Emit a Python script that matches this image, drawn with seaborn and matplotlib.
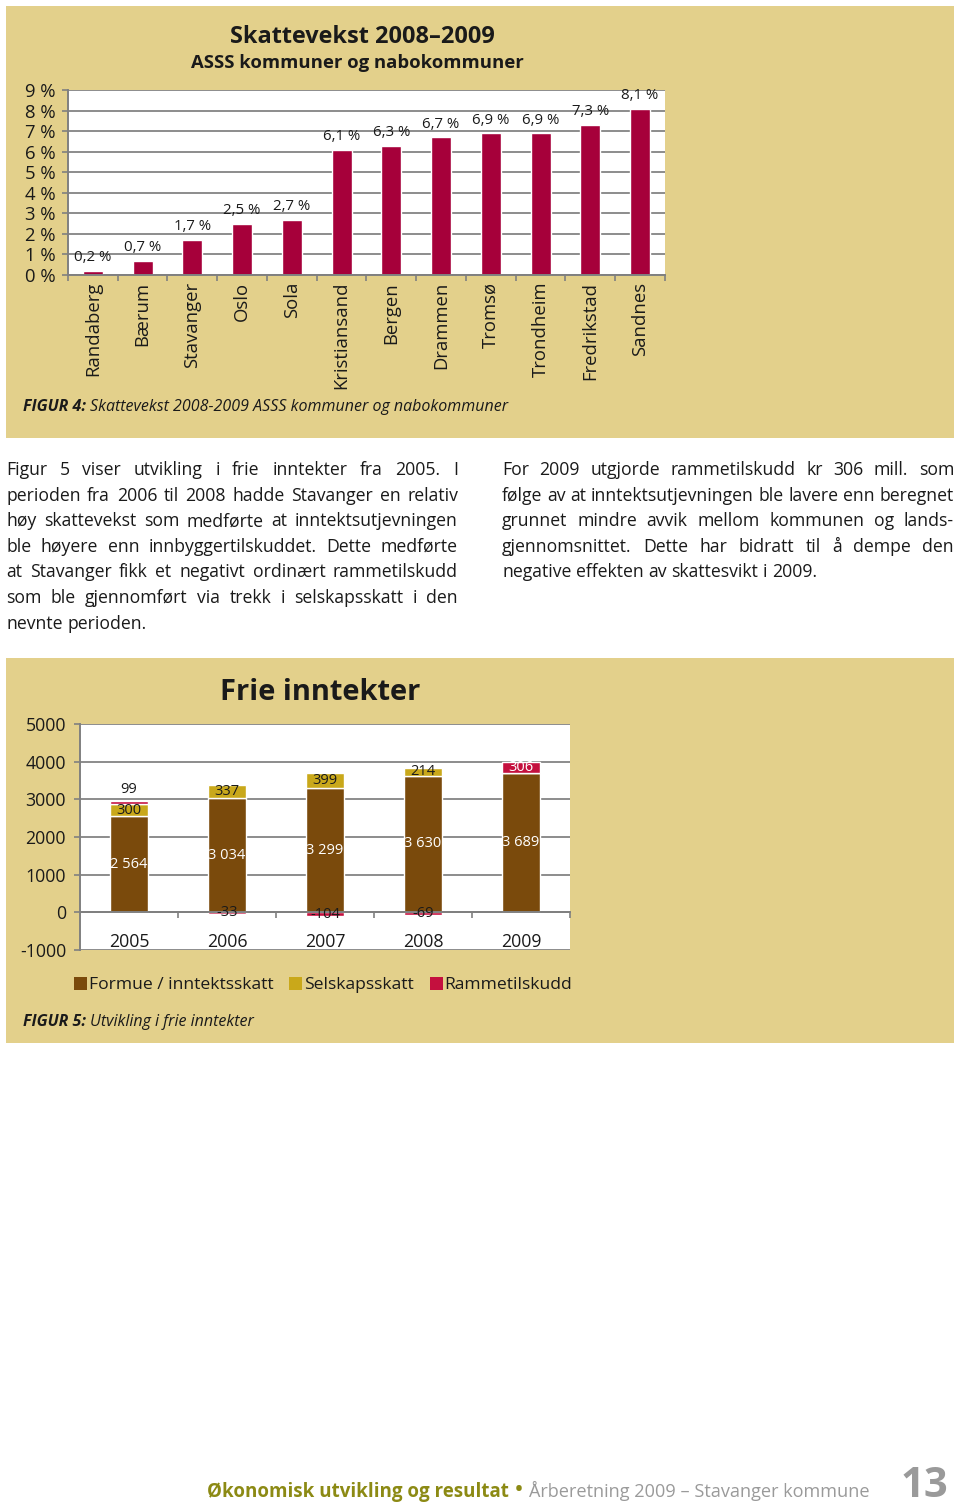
import numpy as np
import pandas as pd
import matplotlib
matplotlib.use("Agg")
import matplotlib.pyplot as plt
from matplotlib.patches import Rectangle, Patch
import seaborn as sns

# ---------------- data ----------------
kommuner = ["Randaberg", "Bærum", "Stavanger", "Oslo", "Sola", "Kristiansand",
            "Bergen", "Drammen", "Tromsø", "Trondheim", "Fredrikstad", "Sandnes"]
skattevekst = [0.2, 0.7, 1.7, 2.5, 2.7, 6.1, 6.3, 6.7, 6.9, 6.9, 7.3, 8.1]
pct_ticks = [0, 1, 2, 3, 4, 5, 6, 7, 8, 9]

years = ["2005", "2006", "2007", "2008", "2009"]
formue = [2564, 3034, 3299, 3630, 3689]
selskap = [300, 337, 399, 214, 0]
ramme = [99, -33, -104, -69, 306]
inntekt_ticks = [-1000, 0, 1000, 2000, 3000, 4000, 5000]
legend_labels = ["Formue / inntektsskatt", "Selskapsskatt", "Rammetilskudd"]

left_par = ["Figur 5 viser utvikling i frie inntekter fra 2005. I",
            "perioden fra 2006 til 2008 hadde Stavanger en relativ",
            "høy skattevekst som medførte at inntektsutjevningen",
            "ble høyere enn innbyggertilskuddet. Dette medførte",
            "at Stavanger fikk et negativt ordinært rammetilskudd",
            "som ble gjennomført via trekk i selskapsskatt i den",
            "nevnte perioden."]
right_par = ["For 2009 utgjorde rammetilskudd kr 306 mill. som",
             "følge av at inntektsutjevningen ble lavere enn beregnet",
             "grunnet mindre avvik mellom kommunen og lands-",
             "gjennomsnittet. Dette har bidratt til å dempe den",
             "negative effekten av skattesvikt i 2009."]

# ---------------- style ----------------
TAN = "#e3d08b"
CRIMSON = "#a6003a"
BROWN = "#7a4a0c"
GOLD = "#c9a81a"
RED = "#c4103e"
GRID = "#8c8c8c"
AX = "#808080"
TXT = "#1a1a1a"
OLIVE = "#8c8a14"
GREY = "#9a9a9a"

sns.set_style("white")
plt.rcParams['font.family'] = ['Open Sans', 'DejaVu Sans']

W, H = 960, 1504
fig = plt.figure(figsize=(W / 100, H / 100), dpi=100)
fig.patch.set_facecolor("white")


def fx(x):
    return x / W


def fy(y):
    return 1 - y / H


fig.patches.append(Rectangle((fx(6), fy(438)), 948 / W, 432 / H, transform=fig.transFigure,
                             facecolor=TAN, edgecolor="none", zorder=-5))
fig.patches.append(Rectangle((fx(6), fy(1043)), 948 / W, 385 / H, transform=fig.transFigure,
                             facecolor=TAN, edgecolor="none", zorder=-5))

fig.canvas.draw()
renderer = fig.canvas.get_renderer()


def text_width(s, **kw):
    t = fig.text(0, 0, s, **kw)
    w = t.get_window_extent(renderer).width
    t.remove()
    return w


def fit_size(s, target, **kw):
    return 10 * target / text_width(s, fontsize=10, **kw)


# ---------------- chart 1 ----------------
ax1 = fig.add_axes([fx(68), fy(275), (665 - 68) / W, (275 - 90) / H])
df1 = pd.DataFrame({"kommune": kommuner, "vekst": skattevekst})
sns.barplot(data=df1, x="kommune", y="vekst", color=CRIMSON, saturation=1,
            width=0.4, errorbar=None, ax=ax1)
ax1.set_xlim(-0.5, len(kommuner) - 0.5)
ax1.set_ylim(0, 9)
ax1.set_yticks(pct_ticks)
ax1.set_yticklabels([f"{t} %" for t in pct_ticks])
ax1.set_xlabel("")
ax1.set_ylabel("")
ax1.yaxis.grid(True, color=GRID, lw=1.4)
ax1.set_axisbelow(True)
for s in ["top", "right"]:
    ax1.spines[s].set_visible(False)
for s in ["left", "bottom"]:
    ax1.spines[s].set_color(AX)
    ax1.spines[s].set_linewidth(1.4)
ax1.set_xticks(range(len(kommuner)))
ax1.set_xticklabels(kommuner, rotation=90, ha="center", va="top")
ax1.set_xticks(np.arange(-0.5, len(kommuner), 1), minor=True)
ax1.tick_params(axis="x", which="major", length=0, pad=5, labelsize=13.3, colors=TXT, bottom=True)
ax1.tick_params(axis="x", which="minor", length=4, width=1.2, color=AX, direction="out", bottom=True)
ax1.tick_params(axis="y", length=4, width=1.2, color=AX, direction="out", pad=5,
                labelsize=13.3, labelcolor=TXT, left=True)
ax1.bar_label(ax1.containers[0], labels=[f"{v:.1f} %".replace(".", ",") for v in skattevekst],
              padding=4, fontsize=10.8, color=TXT)

t1 = "Skattevekst 2008–2009"
fig.text(fx(362), fy(37), t1, ha="center", va="center", fontweight="bold", color=TXT,
         fontsize=fit_size(t1, 265, fontweight="bold"))
t2 = "ASSS kommuner og nabokommuner"
fig.text(fx(357), fy(63), t2, ha="center", va="center", fontweight="bold", color=TXT,
         fontsize=fit_size(t2, 331, fontweight="bold"))


def runs(x, y, parts):
    for s, kw in parts:
        fig.text(fx(x), fy(y), s, ha="left", va="baseline", **kw)
        x += text_width(s, **kw)
    return x


def caption(x, y, lead, rest, target):
    full = lead + " " + rest
    fs = fit_size(full, target, style="italic")
    kb = dict(fontsize=fs, fontweight="bold", style="italic", color=TXT)
    kr = dict(fontsize=fs, style="italic", color=TXT)
    sp = text_width("a a", **kr) - text_width("aa", **kr)
    x2 = x + text_width(lead, **kb) + sp
    fig.text(fx(x), fy(y), lead, ha="left", va="baseline", **kb)
    fig.text(fx(x2), fy(y), rest, ha="left", va="baseline", **kr)


caption(23, 411, "FIGUR 4:", "Skattevekst 2008-2009 ASSS kommuner og nabokommuner", 479)

# ---------------- body text ----------------
body_fs = min(fit_size(l, 452) for l in left_par + right_par)
kbody = dict(fontsize=body_fs, color=TXT)
space_w = text_width("a a", **kbody) - text_width("aa", **kbody)


def paragraph(x0, x1, y0, lines, lh=25.6):
    for i, line in enumerate(lines):
        y = y0 + i * lh
        words = line.split(" ")
        widths = [text_width(w, **kbody) for w in words]
        last = i == len(lines) - 1
        if last or len(words) == 1:
            gap = space_w
        else:
            gap = (x1 - x0 - sum(widths)) / (len(words) - 1)
        x = x0
        for w, wd in zip(words, widths):
            fig.text(fx(x), fy(y), w, ha="left", va="baseline", **kbody)
            x += wd + gap


paragraph(6, 458, 475, left_par)
paragraph(502, 954, 475, right_par)

# ---------------- chart 2 ----------------
ax2 = fig.add_axes([fx(80), fy(950), 490 / W, 226 / H])
df2 = pd.DataFrame({"år": years, "formue": formue, "selskap": selskap, "ramme": ramme})
f_arr = np.array(formue)
s_arr = np.array(selskap)
r_arr = np.array(ramme)
ramme_bottom = np.where(r_arr > 0, f_arr + s_arr, 0)

sns.barplot(data=df2, x="år", y="formue", color=BROWN, saturation=1, width=0.39,
            errorbar=None, ax=ax2)
sns.barplot(data=df2, x="år", y="selskap", color=GOLD, saturation=1, width=0.39,
            errorbar=None, bottom=f_arr, ax=ax2)
sns.barplot(data=df2, x="år", y="ramme", color=RED, saturation=1, width=0.39,
            errorbar=None, bottom=ramme_bottom, ax=ax2)

ax2.set_xlim(-0.5, len(years) - 0.5)
ax2.set_ylim(inntekt_ticks[0], inntekt_ticks[-1])
ax2.set_yticks(inntekt_ticks)
ax2.set_yticklabels([str(t) for t in inntekt_ticks])
ax2.set_xlabel("")
ax2.set_ylabel("")
ax2.yaxis.grid(True, color=GRID, lw=1.4)
ax2.set_axisbelow(True)
for s in ["top", "right"]:
    ax2.spines[s].set_visible(False)
ax2.spines["bottom"].set_position(("data", 0))
for s in ["left", "bottom"]:
    ax2.spines[s].set_color(AX)
    ax2.spines[s].set_linewidth(1.4)
ax2.set_xticks(range(len(years)))
ax2.set_xticklabels(years)
ax2.set_xticks(np.arange(0.5, len(years), 1), minor=True)
ax2.tick_params(axis="x", which="major", length=0, pad=15, labelsize=12.8, colors=TXT, bottom=True)
ax2.tick_params(axis="x", which="minor", length=4, width=1.2, color=AX, direction="out", bottom=True)
ax2.tick_params(axis="y", length=4, width=1.2, color=AX, direction="out", pad=6,
                labelsize=12.8, labelcolor=TXT, left=True)


def nfmt(v):
    return f"{v:,}".replace(",", " ")


cf, cs, cr = ax2.containers[0], ax2.containers[1], ax2.containers[2]
ax2.bar_label(cf, labels=[nfmt(v) for v in formue], label_type="center", color="white", fontsize=10.5)
ax2.bar_label(cs, labels=[nfmt(v) if v != 0 else "" for v in selskap], label_type="center",
              color=TXT, fontsize=10.5)
thin = [(v > 0 and v < 150) for v in ramme]
ax2.bar_label(cr, labels=[nfmt(v) if t else "" for v, t in zip(ramme, thin)], label_type="edge",
              padding=3, color=TXT, fontsize=10.5)
txts = ax2.bar_label(cr, labels=[nfmt(v) if not t else "" for v, t in zip(ramme, thin)],
                     label_type="center", color=TXT, fontsize=10.5)
for v, t in zip(ramme, txts):
    if v >= 200:
        t.set_color("white")

t3 = "Frie inntekter"
fig.text(fx(320), fy(692), t3, ha="center", va="center", fontweight="bold", color=TXT,
         fontsize=fit_size(t3, 201, fontweight="bold"))

handles = [Patch(facecolor=c, edgecolor="none", label=l)
           for c, l in zip([BROWN, GOLD, RED], legend_labels)]
fig.legend(handles=handles, loc="center", bbox_to_anchor=(fx(323), fy(985)), ncol=3,
           frameon=False, fontsize=12.6, handlelength=0.75, handleheight=0.75,
           handletextpad=0.1, columnspacing=0.9, labelcolor=TXT)

caption(23, 1026, "FIGUR 5:", "Utvikling i frie inntekter", 228)

# ---------------- footer ----------------
f1 = "Økonomisk utvikling og resultat"
fs1 = fit_size(f1, 301, fontweight="bold")
x = runs(207, 1497, [(f1, dict(fontsize=fs1, fontweight="bold", color=OLIVE))])
f2 = "Årberetning 2009 – Stavanger kommune"
fs2 = fit_size(f2, 341)
fig.text(fx(x + 5), fy(1497), "•", ha="left", va="baseline", fontsize=fs1 * 1.4, color=OLIVE)
fig.text(fx(529), fy(1497), f2, ha="left", va="baseline", fontsize=fs2, color=GREY)
fig.text(fx(948), fy(1497), "13", ha="right", va="baseline", fontsize=30, fontweight="bold",
         color=GREY)

fig.savefig("out.png", dpi=100)
